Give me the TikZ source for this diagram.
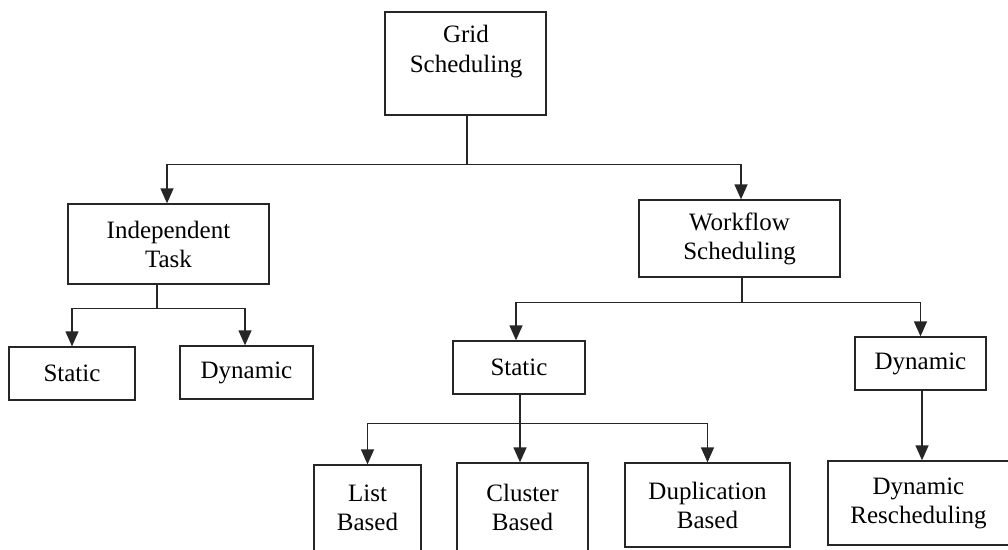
\documentclass[tikz,border=0pt]{standalone}
\usepackage{fontspec}
\setmainfont{Liberation Serif}
\usetikzlibrary{arrows.meta,calc}
\begin{document}
\begin{tikzpicture}[x=1pt,y=-1pt,
  box/.style={draw=black!85, line width=1.3pt, rectangle, inner sep=0pt,
              align=center, font=\fontsize{25}{29}\selectfont},
  lbl/.style={inner sep=0pt, align=center, font=\fontsize{25}{30}\selectfont},
  link/.style={draw=black!85, line width=1.3pt},
  arr/.style={link, -{Triangle[length=15pt,width=13pt]}},
]
\clip (0,0) rectangle (1008,549);
\fill[white] (0,0) rectangle (1008,549);

% root
\node[box, minimum width=161pt, minimum height=103pt] (grid) at (465.5,63.5) {};
\node[lbl] (gridtext) at (466,52) {Grid\\Scheduling};

% second level
\node[box, minimum width=201pt, minimum height=80pt] (indep) at (168.5,244) {Independent\\Task};
\node[box, minimum width=201pt, minimum height=77pt] (work) at (739.5,238.5) {Workflow\\Scheduling};

% third level
\node[box, minimum width=126pt, minimum height=53pt] (statL) at (72,373.5) {Static};
\node[box, minimum width=133pt, minimum height=53pt] (dynL) at (246.5,372.5) {Dynamic};
\node[box, minimum width=132pt, minimum height=53pt] (statM) at (519,367.5) {Static};
\node[box, minimum width=131pt, minimum height=53pt] (dynR) at (920.5,363.5) {Dynamic};

% bottom level
\node[box, minimum width=107pt, minimum height=86pt] (list) at (367.5,508) {List\\Based};
\node[box, minimum width=131pt, minimum height=88pt] (cluster) at (522.5,507) {Cluster\\Based};
\node[box, minimum width=165pt, minimum height=84pt] (dup) at (707.5,505) {Duplication\\Based};
\node[box, minimum width=181pt, minimum height=84pt] (dynres) at (918.5,503) {Dynamic\\Rescheduling};

% root branches
\coordinate (gt) at ($(grid.south)+(1.5,0)$);
\coordinate (gb) at ($(grid.south)+(1.5,49)$);
\draw[link] (gt) -- (gb);
\draw[arr] (gb) -| ($(indep.north)+(-1.5,0)$);
\draw[arr] (gb) -| ($(work.north)+(1.5,0)$);

% independent task branches
\coordinate (it) at ($(indep.south)+(-11.5,0)$);
\coordinate (ib) at ($(indep.south)+(-11.5,24)$);
\draw[link] (it) -- (ib);
\draw[arr] (ib) -| (statL.north);
\draw[arr] (ib) -| ($(dynL.north)+(-1.5,0)$);

% workflow branches
\coordinate (wt) at ($(work.south)+(2.5,0)$);
\coordinate (wb) at ($(work.south)+(2.5,25)$);
\draw[link] (wt) -- (wb);
\draw[arr] (wb) -| ($(statM.north)+(-3,0)$);
\draw[arr] (wb) -| (dynR.north);

% static workflow branches
\coordinate (st) at ($(statM.south)+(1,0)$);
\coordinate (sb) at ($(statM.south)+(1,29)$);
\draw[link] (st) -- (sb);
\draw[arr] (sb) -| (list.north);
\draw[arr] (sb) -- (sb |- cluster.north);
\draw[arr] (sb) -| (dup.north);

% dynamic workflow branch
\coordinate (dt) at ($(dynR.south)+(1.5,0)$);
\draw[arr] (dt) -- (dt |- dynres.north);
\end{tikzpicture}
\end{document}
